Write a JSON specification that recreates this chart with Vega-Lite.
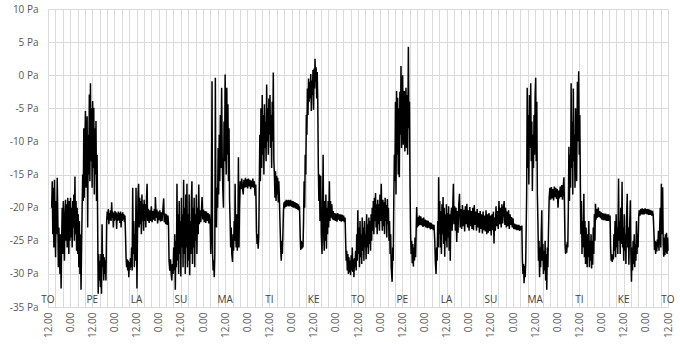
{
"$schema":"https://vega.github.io/schema/vega-lite/v6.json",
"width":620,"height":298,
"autosize":{"type":"none"},
"padding":{"left":48,"top":9,"right":12,"bottom":41},
"background":"white",
"config":{"view":{"stroke":null},"font":"Open Sans"},
"datasets":{
"days":[{"t":0,"d":"TO"},{"t":24,"d":"PE"},{"t":48,"d":"LA"},{"t":72,"d":"SU"},{"t":96,"d":"MA"},{"t":120,"d":"TI"},{"t":144,"d":"KE"},{"t":168,"d":"TO"},{"t":192,"d":"PE"},{"t":216,"d":"LA"},{"t":240,"d":"SU"},{"t":264,"d":"MA"},{"t":288,"d":"TI"},{"t":312,"d":"KE"},{"t":336,"d":"TO"}],
"series":[
{"t":2.0,"p":-20},{"t":2.3,"p":-16},{"t":2.6,"p":-24},{"t":2.9,"p":-17},{"t":3.2,"p":-26},{"t":3.5,"p":-15.8},{"t":3.8,"p":-22},{"t":4.1,"p":-27.5},{"t":4.4,"p":-19},{"t":4.7,"p":-24},{"t":5.0,"p":-15.5},{"t":5.3,"p":-21},{"t":5.6,"p":-29},{"t":5.9,"p":-23},{"t":6.2,"p":-27},{"t":6.5,"p":-30},{"t":6.8,"p":-24},{"t":7.1,"p":-32.2},{"t":7.4,"p":-25},{"t":7.7,"p":-20},{"t":8.0,"p":-27},{"t":8.3,"p":-19},{"t":8.6,"p":-24},{"t":8.9,"p":-28},{"t":9.2,"p":-21},{"t":9.5,"p":-18.8},{"t":9.8,"p":-25},{"t":10.1,"p":-19.5},{"t":10.4,"p":-26},{"t":10.7,"p":-18.5},{"t":11.0,"p":-23},{"t":11.3,"p":-27},{"t":11.6,"p":-19},{"t":11.9,"p":-25},{"t":12.2,"p":-18.5},{"t":12.5,"p":-24.5},{"t":12.8,"p":-20},{"t":13.1,"p":-26},{"t":13.4,"p":-19},{"t":13.7,"p":-23},{"t":14.0,"p":-18},{"t":14.3,"p":-25},{"t":14.6,"p":-15.3},{"t":14.9,"p":-24},{"t":15.2,"p":-19},{"t":15.5,"p":-26.5},{"t":15.8,"p":-20},{"t":16.1,"p":-27},{"t":16.4,"p":-21},{"t":16.7,"p":-29},{"t":17.0,"p":-22},{"t":17.3,"p":-30},{"t":17.6,"p":-24},{"t":17.9,"p":-32.4},{"t":18.2,"p":-26},
{"t":18.5,"p":-20},{"t":18.8,"p":-15},{"t":19.1,"p":-19},{"t":19.4,"p":-8},{"t":19.7,"p":-18.5},{"t":20.0,"p":-10},{"t":20.3,"p":-5.4},{"t":20.6,"p":-17},{"t":20.9,"p":-12},{"t":21.2,"p":-6.2},{"t":21.5,"p":-23},{"t":21.8,"p":-9},{"t":22.1,"p":-15},{"t":22.4,"p":-2.9},{"t":22.7,"p":-16},{"t":23.0,"p":-1.2},{"t":23.3,"p":-13},{"t":23.6,"p":-5},{"t":23.9,"p":-17},{"t":24.2,"p":-3.9},{"t":24.5,"p":-14},{"t":24.8,"p":-4.9},{"t":25.1,"p":-18},{"t":25.4,"p":-8},{"t":25.7,"p":-15},{"t":26.0,"p":-6.9},{"t":26.3,"p":-19},{"t":26.6,"p":-12},
{"t":26.9,"p":-22},{"t":27.2,"p":-33},{"t":27.5,"p":-27},{"t":27.8,"p":-31},{"t":28.1,"p":-28},{"t":28.4,"p":-32},{"t":28.7,"p":-27},{"t":29.0,"p":-33},{"t":29.3,"p":-22.5},{"t":29.6,"p":-29},{"t":29.9,"p":-27},{"t":30.2,"p":-31},{"t":30.5,"p":-27.5},{"t":30.8,"p":-30},{"t":31.1,"p":-28},{"t":31.4,"p":-31},
{"t":31.8,"p":-22},{"t":32.1,"p":-20.6},{"t":32.4,"p":-21.8},{"t":32.7,"p":-20.2},{"t":33.0,"p":-22.5},{"t":33.3,"p":-20.8},{"t":33.6,"p":-21.9},{"t":33.9,"p":-20.4},{"t":34.2,"p":-22},{"t":34.5,"p":-19.2},{"t":34.8,"p":-21.5},{"t":35.1,"p":-20.6},{"t":35.4,"p":-23},{"t":35.7,"p":-20.8},{"t":36.0,"p":-22},{"t":36.3,"p":-20.5},{"t":36.6,"p":-21.8},{"t":36.9,"p":-20.7},{"t":37.2,"p":-23.2},{"t":37.5,"p":-20.9},{"t":37.8,"p":-22},{"t":38.1,"p":-20.6},{"t":38.4,"p":-21.9},{"t":38.7,"p":-20.8},{"t":39.0,"p":-22.3},{"t":39.3,"p":-20.6},{"t":39.6,"p":-23},{"t":39.9,"p":-20.9},{"t":40.2,"p":-22},{"t":40.5,"p":-20.7},{"t":40.8,"p":-21.8},{"t":41.1,"p":-21},{"t":41.4,"p":-22.2},{"t":41.7,"p":-21.2},{"t":42.0,"p":-24},
{"t":42.3,"p":-27.5},{"t":42.6,"p":-29},{"t":42.9,"p":-27.8},{"t":43.2,"p":-29.5},{"t":43.5,"p":-28},{"t":43.8,"p":-30.5},{"t":44.1,"p":-28.2},{"t":44.4,"p":-29.4},{"t":44.7,"p":-27.6},{"t":45.0,"p":-29},{"t":45.3,"p":-26},{"t":45.6,"p":-29.5},
{"t":45.9,"p":-17},{"t":46.2,"p":-27},{"t":46.5,"p":-22},{"t":46.8,"p":-29},{"t":47.1,"p":-24},{"t":47.4,"p":-28},{"t":47.7,"p":-17},{"t":48.0,"p":-25},{"t":48.2,"p":-32.2},{"t":48.5,"p":-24},
{"t":48.8,"p":-18},{"t":49.1,"p":-16.4},{"t":49.4,"p":-23},{"t":49.7,"p":-18.5},{"t":50.0,"p":-22.5},{"t":50.3,"p":-19},{"t":50.6,"p":-24},{"t":50.9,"p":-18},{"t":51.2,"p":-22},{"t":51.5,"p":-19.5},{"t":51.8,"p":-23.5},{"t":52.1,"p":-18.8},{"t":52.4,"p":-22},{"t":52.7,"p":-19.5},{"t":53.0,"p":-23},{"t":53.4,"p":-18.5},{"t":53.7,"p":-16.4},{"t":54.0,"p":-22},
{"t":54.4,"p":-20.2},{"t":54.8,"p":-22.3},{"t":55.2,"p":-20.4},{"t":55.6,"p":-22},{"t":56.0,"p":-19.8},{"t":56.4,"p":-22.2},{"t":56.8,"p":-20.5},{"t":57.2,"p":-21.8},{"t":57.6,"p":-20.2},{"t":58.0,"p":-22},{"t":58.2,"p":-18.4},{"t":58.6,"p":-21.5},{"t":59.0,"p":-20.3},{"t":59.4,"p":-22.4},{"t":59.8,"p":-20.6},{"t":60.2,"p":-21.9},{"t":60.6,"p":-20.4},{"t":61.0,"p":-22.1},{"t":61.4,"p":-20.7},{"t":61.8,"p":-22},{"t":62.2,"p":-20.5},{"t":62.7,"p":-18.6},{"t":63.0,"p":-22.2},{"t":63.4,"p":-20.9},{"t":63.8,"p":-22.5},{"t":64.2,"p":-21},{"t":64.6,"p":-22.6},{"t":65.0,"p":-21.2},{"t":65.3,"p":-22.4},
{"t":65.6,"p":-28},{"t":66.0,"p":-29.5},{"t":66.4,"p":-27.8},{"t":66.8,"p":-30.2},{"t":67.1,"p":-31},{"t":67.4,"p":-28.5},{"t":67.8,"p":-30},{"t":68.1,"p":-26},{"t":68.4,"p":-29.5},{"t":68.7,"p":-24},{"t":69.0,"p":-32.4},{"t":69.3,"p":-25},{"t":69.6,"p":-29},{"t":69.9,"p":-16.4},{"t":70.2,"p":-28},{"t":70.5,"p":-21},{"t":70.8,"p":-30},{"t":71.1,"p":-19},{"t":71.4,"p":-27},{"t":71.7,"p":-22},{"t":72.0,"p":-30.4},{"t":72.3,"p":-18.5},{"t":72.6,"p":-26},{"t":72.9,"p":-21},{"t":73.2,"p":-29},{"t":73.5,"p":-15.8},{"t":73.8,"p":-27},{"t":74.1,"p":-20},{"t":74.4,"p":-30},{"t":74.7,"p":-18},{"t":75.0,"p":-26},{"t":75.3,"p":-16.4},{"t":75.6,"p":-29},{"t":75.9,"p":-21},{"t":76.2,"p":-28},{"t":76.5,"p":-18},{"t":76.8,"p":-30.2},{"t":77.1,"p":-22},{"t":77.4,"p":-27},{"t":77.7,"p":-19},{"t":78.0,"p":-16},{"t":78.3,"p":-28.5},{"t":78.6,"p":-20},{"t":78.9,"p":-26},{"t":79.2,"p":-18.5},{"t":79.5,"p":-29},{"t":79.8,"p":-21},{"t":80.1,"p":-25},{"t":80.4,"p":-18},{"t":80.7,"p":-27},{"t":81.0,"p":-20},{"t":81.4,"p":-24},{"t":81.7,"p":-16.5},
{"t":82.0,"p":-22.5},{"t":82.4,"p":-20.4},{"t":82.8,"p":-22.2},{"t":83.2,"p":-20.2},{"t":83.5,"p":-18.4},{"t":83.9,"p":-21.8},{"t":84.3,"p":-20.3},{"t":84.7,"p":-22.2},{"t":85.1,"p":-20.5},{"t":85.5,"p":-22.3},{"t":85.9,"p":-20.6},{"t":86.3,"p":-22},{"t":86.7,"p":-20.8},{"t":87.1,"p":-22.4},{"t":87.5,"p":-21},{"t":87.9,"p":-22.5},
{"t":88.2,"p":-27},{"t":88.5,"p":-24},{"t":88.9,"p":-0.9},{"t":89.2,"p":-27},{"t":89.5,"p":-29.5},{"t":89.8,"p":-28},{"t":90.1,"p":-30.5},{"t":90.4,"p":-27},{"t":90.7,"p":-0.4},{"t":91.0,"p":-20},{"t":91.3,"p":-23},{"t":91.6,"p":-17},{"t":91.9,"p":-20},{"t":92.2,"p":-11},{"t":92.5,"p":-18},{"t":92.8,"p":-9},{"t":93.1,"p":-16},
{"t":93.4,"p":-6},{"t":93.7,"p":-14},{"t":94.1,"p":-1.9},{"t":94.4,"p":-12},{"t":94.7,"p":-17},{"t":95.1,"p":-20},{"t":95.4,"p":-7},{"t":95.7,"p":-13},{"t":96.0,"p":0.1},{"t":96.3,"p":-10},{"t":96.6,"p":-15},{"t":96.9,"p":-1.9},{"t":97.2,"p":-12},{"t":97.5,"p":-4.4},{"t":97.8,"p":-16},{"t":98.1,"p":-8},{"t":98.4,"p":-19},
{"t":98.7,"p":-22},{"t":99.0,"p":-26},{"t":99.3,"p":-23},{"t":99.6,"p":-27},{"t":100.0,"p":-28.2},{"t":100.3,"p":-24},{"t":100.6,"p":-26.5},{"t":100.9,"p":-22},{"t":101.2,"p":-25},{"t":101.4,"p":-16.4},{"t":101.7,"p":-24},{"t":102.0,"p":-26},{"t":102.3,"p":-21},{"t":102.6,"p":-26.5},{"t":102.9,"p":-24},{"t":103.2,"p":-12.4},{"t":103.5,"p":-26},{"t":103.8,"p":-20},
{"t":104.2,"p":-16},{"t":104.6,"p":-17.2},{"t":105.0,"p":-15.6},{"t":105.4,"p":-17},{"t":105.8,"p":-18},{"t":106.2,"p":-15.8},{"t":106.6,"p":-17},{"t":107.0,"p":-15.5},{"t":107.4,"p":-16.9},{"t":107.8,"p":-15.7},{"t":108.2,"p":-17.1},{"t":108.6,"p":-15.6},{"t":109.0,"p":-16.8},{"t":109.4,"p":-15.8},{"t":109.8,"p":-17.2},{"t":110.2,"p":-15.9},{"t":110.6,"p":-16.9},{"t":111.0,"p":-15.6},{"t":111.4,"p":-17},{"t":111.8,"p":-16},{"t":112.2,"p":-18.2},{"t":112.6,"p":-16.5},
{"t":113.0,"p":-23.5},{"t":113.3,"p":-25.5},{"t":113.6,"p":-24},{"t":113.9,"p":-26.2},{"t":114.2,"p":-24.5},
{"t":114.5,"p":-17},{"t":114.8,"p":-9},{"t":115.1,"p":-16},{"t":115.4,"p":-5},{"t":115.8,"p":-14},{"t":116.1,"p":-3},{"t":116.4,"p":-12},{"t":116.7,"p":-6},{"t":117.0,"p":-15},{"t":117.3,"p":-4.4},{"t":117.6,"p":-11},{"t":117.9,"p":-7},{"t":118.2,"p":-13},{"t":118.5,"p":-1.4},{"t":118.8,"p":-10},{"t":119.1,"p":-5},{"t":119.4,"p":-12},{"t":119.7,"p":-3.5},{"t":120.0,"p":-9},{"t":120.3,"p":-3},{"t":120.6,"p":-11},{"t":120.9,"p":-6},{"t":121.2,"p":-14},{"t":121.5,"p":-4},{"t":121.8,"p":-10},{"t":122.1,"p":0.4},{"t":122.4,"p":-13},
{"t":122.7,"p":-15},{"t":123.0,"p":-18.5},{"t":123.3,"p":-14.5},{"t":123.6,"p":-19},{"t":123.9,"p":-15.2},{"t":124.2,"p":-18},{"t":124.5,"p":-15.5},{"t":124.8,"p":-19.2},{"t":125.1,"p":-16},{"t":125.4,"p":-18.8},
{"t":125.8,"p":-23},{"t":126.1,"p":-26},{"t":126.4,"p":-28},{"t":126.7,"p":-25},{"t":127.0,"p":-27},{"t":127.3,"p":-24},
{"t":127.6,"p":-20.5},{"t":127.9,"p":-19.2},{"t":128.2,"p":-20.1},{"t":128.5,"p":-19},{"t":128.8,"p":-19.9},{"t":129.1,"p":-18.8},{"t":129.4,"p":-19.8},{"t":129.7,"p":-18.9},{"t":130.0,"p":-19.7},{"t":130.3,"p":-18.8},{"t":130.6,"p":-19.8},{"t":130.9,"p":-18.9},{"t":131.2,"p":-19.7},{"t":131.5,"p":-18.8},{"t":131.8,"p":-19.8},{"t":132.1,"p":-19},{"t":132.4,"p":-19.9},{"t":132.7,"p":-19},{"t":133.0,"p":-20},{"t":133.3,"p":-19.1},{"t":133.6,"p":-20},{"t":133.9,"p":-19.2},{"t":134.2,"p":-20.1},{"t":134.5,"p":-19.3},{"t":134.8,"p":-20.2},{"t":135.1,"p":-19.4},{"t":135.4,"p":-20.3},{"t":135.7,"p":-19.5},{"t":136.0,"p":-20.4},{"t":136.3,"p":-19.8},
{"t":136.7,"p":-24.5},{"t":137.0,"p":-26.4},{"t":137.3,"p":-25},{"t":137.6,"p":-26.2},{"t":137.9,"p":-25.2},{"t":138.2,"p":-26},
{"t":138.5,"p":-22},{"t":138.8,"p":-16},{"t":139.1,"p":-20},{"t":139.4,"p":-12},{"t":139.7,"p":-15},{"t":140.0,"p":-6},{"t":140.3,"p":-9},{"t":140.6,"p":-2},{"t":140.9,"p":-6},{"t":141.2,"p":-0.5},{"t":141.5,"p":-4},{"t":141.8,"p":-1},{"t":142.1,"p":-3.5},{"t":142.4,"p":0.2},{"t":142.7,"p":-5.4},{"t":143.0,"p":-0.8},{"t":143.3,"p":-3},{"t":143.6,"p":0.8},{"t":143.9,"p":-5.2},{"t":144.2,"p":1},{"t":144.5,"p":-2},{"t":144.7,"p":2.5},{"t":145.0,"p":-1},{"t":145.3,"p":1.2},{"t":145.6,"p":-3.5},{"t":145.9,"p":0.5},{"t":146.2,"p":-4},
{"t":146.5,"p":-14},{"t":146.8,"p":-19},{"t":147.1,"p":-15},{"t":147.4,"p":-22},{"t":147.8,"p":-15.2},{"t":148.1,"p":-24},{"t":148.5,"p":-27},{"t":148.8,"p":-20},{"t":149.1,"p":-12},{"t":149.4,"p":-24},{"t":149.7,"p":-26.5},{"t":150.0,"p":-19},{"t":150.3,"p":-25},{"t":150.6,"p":-18},{"t":150.9,"p":-26.2},{"t":151.2,"p":-20},{"t":151.5,"p":-24},{"t":151.8,"p":-19},{"t":152.1,"p":-23},{"t":152.5,"p":-16},{"t":152.8,"p":-22},{"t":153.1,"p":-19},{"t":153.4,"p":-21.5},{"t":153.8,"p":-19.5},
{"t":154.2,"p":-21.8},{"t":154.6,"p":-20.5},{"t":155.0,"p":-21.9},{"t":155.4,"p":-20.8},{"t":155.8,"p":-22},{"t":156.2,"p":-20.9},{"t":156.6,"p":-22.1},{"t":157.0,"p":-20.8},{"t":157.4,"p":-21.8},{"t":157.8,"p":-21},{"t":158.2,"p":-22},{"t":158.6,"p":-21},{"t":159.0,"p":-22.1},{"t":159.4,"p":-21.1},{"t":159.8,"p":-22},{"t":160.2,"p":-21.2},{"t":160.6,"p":-22.2},{"t":161.0,"p":-21.5},
{"t":161.3,"p":-25},{"t":161.6,"p":-28},{"t":161.9,"p":-26.5},{"t":162.2,"p":-29.5},{"t":162.5,"p":-27},{"t":162.8,"p":-30},{"t":163.1,"p":-27.5},{"t":163.4,"p":-29.8},{"t":163.7,"p":-28},{"t":164.0,"p":-30.2},{"t":164.3,"p":-27.2},{"t":164.6,"p":-29.5},{"t":164.9,"p":-26},{"t":165.2,"p":-29.7},{"t":165.5,"p":-27.8},{"t":165.8,"p":-30.5},{"t":166.1,"p":-27.6},{"t":166.4,"p":-29},{"t":166.7,"p":-26.5},{"t":167.0,"p":-29.5},
{"t":167.3,"p":-24},{"t":167.6,"p":-28},{"t":167.9,"p":-20.4},{"t":168.2,"p":-27},{"t":168.5,"p":-23},{"t":168.8,"p":-29},{"t":169.1,"p":-22},{"t":169.4,"p":-27.5},{"t":169.7,"p":-24},{"t":170.0,"p":-28.5},{"t":170.3,"p":-21.5},{"t":170.6,"p":-26.5},{"t":170.9,"p":-23},{"t":171.2,"p":-28},{"t":171.5,"p":-22},{"t":171.8,"p":-26},{"t":172.1,"p":-24},{"t":172.4,"p":-27.8},{"t":172.7,"p":-21},{"t":173.0,"p":-26},{"t":173.3,"p":-22.5},{"t":173.6,"p":-27},{"t":173.9,"p":-21.5},{"t":174.2,"p":-25.5},{"t":174.5,"p":-22},{"t":174.8,"p":-26.5},{"t":175.1,"p":-21},{"t":175.4,"p":-25},{"t":175.7,"p":-20},
{"t":176.0,"p":-23.5},{"t":176.3,"p":-19},{"t":176.6,"p":-24},{"t":176.9,"p":-18.5},{"t":177.2,"p":-22},{"t":177.5,"p":-17.8},{"t":177.8,"p":-23},{"t":178.1,"p":-19.5},{"t":178.4,"p":-24},{"t":178.7,"p":-18.8},{"t":179.0,"p":-22.5},{"t":179.3,"p":-19.5},{"t":179.6,"p":-23.5},{"t":179.9,"p":-18},{"t":180.2,"p":-22},{"t":180.6,"p":-16.4},{"t":180.9,"p":-21},{"t":181.2,"p":-23.5},{"t":181.5,"p":-18.8},{"t":181.8,"p":-22.8},{"t":182.1,"p":-19.2},{"t":182.4,"p":-24},{"t":182.7,"p":-18.5},{"t":183.0,"p":-22},{"t":183.3,"p":-19.6},{"t":183.6,"p":-24.5},{"t":183.9,"p":-18.7},{"t":184.2,"p":-22.5},{"t":184.5,"p":-20},{"t":184.8,"p":-25},
{"t":185.1,"p":-22},{"t":185.4,"p":-27},{"t":185.7,"p":-24},{"t":186.0,"p":-29},{"t":186.5,"p":-31.2},{"t":186.8,"p":-26},{"t":187.1,"p":-28},
{"t":187.4,"p":-19},{"t":187.7,"p":-12},{"t":188.0,"p":-16},{"t":188.3,"p":-4},{"t":188.6,"p":-18},{"t":188.9,"p":-2.4},{"t":189.2,"p":-12},{"t":189.5,"p":-3.4},{"t":189.8,"p":-15},{"t":190.1,"p":-5},{"t":190.4,"p":-15.4},{"t":190.7,"p":-2.5},{"t":191.0,"p":-9},{"t":191.3,"p":1.4},{"t":191.6,"p":-11},{"t":191.9,"p":-4},{"t":192.2,"p":0},{"t":192.5,"p":-10.5},{"t":192.8,"p":-5},{"t":193.1,"p":-2.4},{"t":193.4,"p":-11.5},{"t":193.7,"p":-6},{"t":194.0,"p":-1.9},{"t":194.3,"p":-11},{"t":194.6,"p":-3},{"t":194.9,"p":-12},{"t":195.3,"p":4.3},{"t":195.6,"p":-8},{"t":195.9,"p":-4},
{"t":196.2,"p":-17},{"t":196.5,"p":-24},{"t":196.8,"p":-27},{"t":197.1,"p":-25},{"t":197.4,"p":-28.4},{"t":197.7,"p":-25.5},{"t":198.0,"p":-28.9},{"t":198.3,"p":-26},{"t":198.6,"p":-28},{"t":198.9,"p":-24.5},{"t":199.2,"p":-27.5},
{"t":199.8,"p":-19.9},{"t":200.1,"p":-23},{"t":200.4,"p":-21.4},{"t":200.8,"p":-22.8},{"t":201.2,"p":-21.2},{"t":201.6,"p":-22.6},{"t":202.0,"p":-21.3},{"t":202.4,"p":-22.7},{"t":202.8,"p":-21.6},{"t":203.2,"p":-22.9},{"t":203.6,"p":-21.5},{"t":204.0,"p":-22.8},{"t":204.4,"p":-21.8},{"t":204.8,"p":-23},{"t":205.2,"p":-21.9},{"t":205.6,"p":-23.1},{"t":206.0,"p":-22},{"t":206.4,"p":-23},{"t":206.8,"p":-22.2},{"t":207.2,"p":-23.3},{"t":207.6,"p":-22.3},{"t":208.0,"p":-23.2},{"t":208.4,"p":-22.5},{"t":208.8,"p":-23.4},{"t":209.2,"p":-22.6},
{"t":209.6,"p":-25},{"t":209.9,"p":-28},{"t":210.3,"p":-30},{"t":210.6,"p":-26},{"t":210.9,"p":-28},{"t":211.2,"p":-22},{"t":211.5,"p":-26},{"t":211.7,"p":-15.4},{"t":212.0,"p":-24},
{"t":212.3,"p":-19},{"t":212.6,"p":-26},{"t":212.9,"p":-20.5},{"t":213.2,"p":-27},{"t":213.5,"p":-19.5},{"t":213.8,"p":-24},{"t":214.1,"p":-18.4},{"t":214.4,"p":-25.5},{"t":214.7,"p":-20},{"t":215.0,"p":-27.4},{"t":215.3,"p":-21},{"t":215.6,"p":-25},{"t":215.9,"p":-19.5},{"t":216.2,"p":-26},{"t":216.5,"p":-20.8},{"t":216.8,"p":-24.5},{"t":217.1,"p":-19.8},{"t":217.4,"p":-26.5},{"t":217.7,"p":-21},{"t":218.0,"p":-28},{"t":218.3,"p":-21.5},
{"t":218.7,"p":-20},{"t":219.0,"p":-23.5},{"t":219.4,"p":-19.5},{"t":219.7,"p":-16.4},{"t":220.0,"p":-22.5},{"t":220.4,"p":-19.8},{"t":220.8,"p":-23.5},{"t":221.1,"p":-20},{"t":221.5,"p":-25.2},{"t":221.9,"p":-20.5},{"t":222.2,"p":-23.8},{"t":222.6,"p":-19.6},{"t":223.0,"p":-17.9},{"t":223.4,"p":-23},{"t":223.8,"p":-20.2},{"t":224.2,"p":-23.2},{"t":224.6,"p":-19.6},{"t":225.0,"p":-22.8},{"t":225.4,"p":-20.3},{"t":225.8,"p":-23.6},{"t":226.2,"p":-19.8},{"t":226.6,"p":-22.5},{"t":227.0,"p":-19.4},{"t":227.4,"p":-23},{"t":227.8,"p":-20.4},{"t":228.2,"p":-23.5},{"t":228.6,"p":-19.9},{"t":229.0,"p":-22.8},{"t":229.4,"p":-20.5},{"t":229.8,"p":-23.2},{"t":230.2,"p":-20},{"t":230.6,"p":-23.4},{"t":231.0,"p":-19.6},{"t":231.4,"p":-22.6},{"t":231.8,"p":-20.6},{"t":232.2,"p":-23.5},{"t":232.6,"p":-20.2},{"t":233.0,"p":-23},{"t":233.4,"p":-20.8},{"t":233.8,"p":-23.8},{"t":234.2,"p":-20.5},{"t":234.6,"p":-23.2},{"t":235.0,"p":-21},{"t":235.4,"p":-23.9},{"t":235.8,"p":-20.6},{"t":236.2,"p":-23.4},{"t":236.6,"p":-21.2},{"t":237.0,"p":-23.6},{"t":237.4,"p":-20.4},{"t":237.8,"p":-24},{"t":238.2,"p":-21},
{"t":238.6,"p":-23.8},{"t":239.0,"p":-20.8},{"t":239.4,"p":-23.5},{"t":239.8,"p":-21.2},{"t":240.2,"p":-24.2},{"t":240.6,"p":-21},{"t":241.0,"p":-23.4},{"t":241.4,"p":-20.6},{"t":241.7,"p":-25.4},{"t":242.0,"p":-21.5},{"t":242.4,"p":-23.5},{"t":242.8,"p":-19.8},{"t":243.2,"p":-22.8},{"t":243.6,"p":-20.5},{"t":244.0,"p":-23.2},{"t":244.4,"p":-19},{"t":244.8,"p":-22.5},{"t":245.2,"p":-20},{"t":245.6,"p":-23},{"t":246.0,"p":-19.5},{"t":246.4,"p":-22.4},{"t":246.8,"p":-20.2},{"t":247.2,"p":-19},{"t":247.6,"p":-22.6},{"t":248.0,"p":-20},{"t":248.4,"p":-23},{"t":248.8,"p":-20.6},{"t":249.2,"p":-22.8},{"t":249.6,"p":-20.4},{"t":250.0,"p":-23.2},{"t":250.4,"p":-21},{"t":250.8,"p":-22.6},{"t":251.2,"p":-21.4},{"t":251.6,"p":-23},{"t":252.0,"p":-21.6},{"t":252.4,"p":-23.2},
{"t":252.8,"p":-22.4},{"t":253.2,"p":-23.3},{"t":253.6,"p":-22.5},{"t":254.0,"p":-23.4},{"t":254.4,"p":-22.6},{"t":254.8,"p":-23.4},{"t":255.2,"p":-22.6},{"t":255.6,"p":-23.5},{"t":256.0,"p":-22.8},{"t":256.4,"p":-23.4},{"t":256.8,"p":-22.7},
{"t":257.1,"p":-28},{"t":257.4,"p":-30},{"t":257.7,"p":-28.5},{"t":258.0,"p":-31.4},{"t":258.3,"p":-28.8},{"t":258.6,"p":-30.5},{"t":258.9,"p":-28},
{"t":259.4,"p":-18},{"t":259.7,"p":-1.9},{"t":260.0,"p":-14},{"t":260.3,"p":-6},{"t":260.6,"p":-16.5},{"t":260.9,"p":-3},{"t":261.2,"p":-11},{"t":261.6,"p":-1.2},{"t":261.9,"p":-13},{"t":262.2,"p":-7},{"t":262.5,"p":-17.5},{"t":262.8,"p":-9},{"t":263.1,"p":-14},{"t":263.4,"p":-6},{"t":263.7,"p":-12},{"t":264.0,"p":-3},{"t":264.3,"p":-0.4},{"t":264.6,"p":-13},{"t":264.9,"p":-4},{"t":265.2,"p":-18},
{"t":265.5,"p":-22},{"t":265.8,"p":-28},{"t":266.1,"p":-25},{"t":266.4,"p":-30.5},{"t":266.7,"p":-26},{"t":267.0,"p":-29},{"t":267.3,"p":-24},{"t":267.6,"p":-20.4},{"t":267.9,"p":-28},{"t":268.2,"p":-25.5},{"t":268.5,"p":-30},{"t":268.8,"p":-26.5},{"t":269.1,"p":-29.5},{"t":269.4,"p":-25},{"t":269.7,"p":-31},{"t":270.0,"p":-27},{"t":270.3,"p":-32.4},{"t":270.6,"p":-26},{"t":270.9,"p":-29},{"t":271.2,"p":-24},
{"t":271.6,"p":-18.5},{"t":272.0,"p":-17},{"t":272.4,"p":-18.8},{"t":272.8,"p":-16.9},{"t":273.2,"p":-18.6},{"t":273.6,"p":-17.2},{"t":274.0,"p":-18.9},{"t":274.4,"p":-16.8},{"t":274.8,"p":-18.4},{"t":275.2,"p":-17},{"t":275.6,"p":-18.7},{"t":276.0,"p":-17.2},{"t":276.4,"p":-20},{"t":276.8,"p":-17.4},{"t":277.2,"p":-18.6},{"t":277.6,"p":-16.8},{"t":278.0,"p":-18.4},{"t":278.4,"p":-16.6},{"t":278.8,"p":-18.8},{"t":279.2,"p":-17},{"t":279.6,"p":-15.4},
{"t":279.9,"p":-20},{"t":280.2,"p":-25.5},{"t":280.5,"p":-27},{"t":280.8,"p":-25.6},{"t":281.1,"p":-26.8},{"t":281.4,"p":-25.2},{"t":281.7,"p":-26},
{"t":282.0,"p":-20},{"t":282.3,"p":-10.8},{"t":282.6,"p":-19},{"t":282.9,"p":-12},{"t":283.2,"p":-17},{"t":283.5,"p":-1.2},{"t":283.8,"p":-14},{"t":284.1,"p":-7},{"t":284.4,"p":-18},{"t":284.7,"p":-2},{"t":285.0,"p":-13},{"t":285.3,"p":-9},{"t":285.6,"p":-17},{"t":285.9,"p":-5},{"t":286.2,"p":-12},{"t":286.5,"p":-16},{"t":286.9,"p":-1},{"t":287.2,"p":-10},{"t":287.6,"p":0.6},{"t":287.9,"p":-12},{"t":288.2,"p":-6},
{"t":288.5,"p":-16},{"t":288.8,"p":-24},{"t":289.1,"p":-19},{"t":289.4,"p":-27},{"t":289.7,"p":-22},{"t":290.0,"p":-26},{"t":290.4,"p":-17.9},{"t":290.7,"p":-27.5},{"t":291.0,"p":-22},{"t":291.3,"p":-28.5},{"t":291.6,"p":-23},{"t":291.9,"p":-26},{"t":292.2,"p":-29},{"t":292.5,"p":-24},{"t":292.8,"p":-27.5},{"t":293.1,"p":-22},{"t":293.4,"p":-29},{"t":293.7,"p":-25},{"t":294.0,"p":-28},{"t":294.3,"p":-24},{"t":294.6,"p":-29.2},{"t":294.9,"p":-25},{"t":295.2,"p":-28.6},{"t":295.5,"p":-23},{"t":295.8,"p":-27},{"t":296.1,"p":-21},{"t":296.4,"p":-25},{"t":296.7,"p":-19.4},
{"t":297.0,"p":-21.8},{"t":297.4,"p":-20.2},{"t":297.8,"p":-21.5},{"t":298.2,"p":-20},{"t":298.6,"p":-21.4},{"t":299.0,"p":-20.5},{"t":299.4,"p":-21.6},{"t":299.8,"p":-20.7},{"t":300.2,"p":-21.8},{"t":300.6,"p":-20.8},{"t":301.0,"p":-21.9},{"t":301.4,"p":-20.9},{"t":301.8,"p":-21.9},{"t":302.2,"p":-20.9},{"t":302.6,"p":-22},{"t":303.0,"p":-21},{"t":303.4,"p":-22},{"t":303.8,"p":-21},{"t":304.2,"p":-22},{"t":304.6,"p":-21.2},
{"t":304.9,"p":-26},{"t":305.2,"p":-28},{"t":305.5,"p":-27},{"t":305.8,"p":-28.2},{"t":306.1,"p":-27.2},{"t":306.4,"p":-27.8},
{"t":306.7,"p":-24},{"t":307.0,"p":-26.5},{"t":307.3,"p":-22},{"t":307.6,"p":-27.5},{"t":307.9,"p":-21},{"t":308.2,"p":-26},{"t":308.5,"p":-23},{"t":308.8,"p":-27},{"t":309.2,"p":-15.6},{"t":309.5,"p":-25},{"t":309.8,"p":-22},{"t":310.1,"p":-27},{"t":310.4,"p":-20},{"t":310.8,"p":-25.5},{"t":311.1,"p":-16.1},{"t":311.4,"p":-26},{"t":311.7,"p":-23},{"t":312.0,"p":-28},{"t":312.3,"p":-21},{"t":312.6,"p":-26.5},{"t":312.9,"p":-24},{"t":313.2,"p":-28.5},{"t":313.5,"p":-22},{"t":313.9,"p":-17.9},{"t":314.2,"p":-26},{"t":314.5,"p":-23},{"t":314.8,"p":-28.6},{"t":315.1,"p":-24},{"t":315.6,"p":-18.9},{"t":315.9,"p":-27},{"t":316.2,"p":-31.2},{"t":316.5,"p":-26},{"t":316.8,"p":-29.5},{"t":317.1,"p":-25},{"t":317.4,"p":-28.5},{"t":317.7,"p":-24},{"t":318.0,"p":-29},{"t":318.3,"p":-25.5},{"t":318.6,"p":-28},{"t":318.9,"p":-22},{"t":319.2,"p":-27},{"t":319.5,"p":-24},{"t":319.8,"p":-26},
{"t":320.1,"p":-21.5},{"t":320.4,"p":-20.4},{"t":320.8,"p":-21.2},{"t":321.2,"p":-20.2},{"t":321.6,"p":-21},{"t":322.0,"p":-20.1},{"t":322.4,"p":-21},{"t":322.8,"p":-20.2},{"t":323.2,"p":-21},{"t":323.6,"p":-20.1},{"t":324.0,"p":-20.9},{"t":324.4,"p":-20.2},{"t":324.8,"p":-21},{"t":325.2,"p":-20.2},{"t":325.6,"p":-21.1},{"t":326.0,"p":-20.3},{"t":326.4,"p":-21.1},{"t":326.8,"p":-20.4},{"t":327.2,"p":-21.2},{"t":327.6,"p":-20.5},{"t":328.0,"p":-21.2},
{"t":328.4,"p":-24},{"t":328.7,"p":-26.4},{"t":329.0,"p":-25},{"t":329.3,"p":-27},{"t":329.6,"p":-25.2},{"t":329.9,"p":-26.6},{"t":330.2,"p":-24.8},{"t":330.5,"p":-26},{"t":330.8,"p":-23.5},{"t":331.1,"p":-26.5},{"t":331.4,"p":-24},{"t":331.8,"p":-20},{"t":332.1,"p":-26},{"t":332.4,"p":-16.4},{"t":332.7,"p":-24},{"t":333.1,"p":-16.9},{"t":333.4,"p":-25.5},{"t":333.7,"p":-27.4},{"t":334.0,"p":-24.5},{"t":334.3,"p":-27.2},{"t":334.6,"p":-24},{"t":334.9,"p":-26.8},{"t":335.2,"p":-23.8},{"t":335.5,"p":-27},{"t":335.8,"p":-24.5},{"t":336.0,"p":-26.5}
]},
"layer":[
{"data":{"name":"series"},
 "mark":{"type":"line","color":"#000000","strokeWidth":1.5,"interpolate":"linear"},
 "encoding":{
  "x":{"field":"t","type":"quantitative","scale":{"domain":[0,336],"nice":false,"zero":false},
   "axis":{"title":null,"values":[0,4,8,12,16,20,24,28,32,36,40,44,48,52,56,60,64,68,72,76,80,84,88,92,96,100,104,108,112,116,120,124,128,132,136,140,144,148,152,156,160,164,168,172,176,180,184,188,192,196,200,204,208,212,216,220,224,228,232,236,240,244,248,252,256,260,264,268,272,276,280,284,288,292,296,300,304,308,312,316,320,324,328,332,336],
    "labelExpr":"datum.value % 24 == 0 ? '12.00' : (datum.value % 12 == 0 ? '0.00' : '')",
    "labelAngle":-90,"labelPadding":5,"ticks":false,"domain":false,"grid":true,"gridColor":"#dadada","gridWidth":1,
    "labelColor":"#595959","labelFont":"Open Sans","labelFontSize":10,"labelOverlap":false,"labelBound":false,"labelFlush":false}},
  "y":{"field":"p","type":"quantitative","scale":{"domain":[-35,10],"nice":false,"zero":false},
   "axis":{"title":null,"values":[-35,-30,-25,-20,-15,-10,-5,0,5,10],"labelExpr":"datum.value + ' Pa'",
    "ticks":false,"domain":false,"grid":true,"gridColor":"#dadada","gridWidth":1,"labelPadding":10,
    "labelColor":"#595959","labelFont":"Open Sans","labelFontSize":10,"labelOverlap":false,"labelFlush":false}}
 }},
{"data":{"name":"days"},
 "mark":{"type":"text","color":"#404040","font":"Open Sans","fontSize":10,"baseline":"alphabetic","align":"center","dy":-4},
 "encoding":{
  "x":{"field":"t","type":"quantitative",
   "axis":{"title":null,"values":[0,4,8,12,16,20,24,28,32,36,40,44,48,52,56,60,64,68,72,76,80,84,88,92,96,100,104,108,112,116,120,124,128,132,136,140,144,148,152,156,160,164,168,172,176,180,184,188,192,196,200,204,208,212,216,220,224,228,232,236,240,244,248,252,256,260,264,268,272,276,280,284,288,292,296,300,304,308,312,316,320,324,328,332,336],
    "labelExpr":"datum.value % 24 == 0 ? '12.00' : (datum.value % 12 == 0 ? '0.00' : '')",
    "labelAngle":-90,"labelPadding":5,"ticks":false,"domain":false,"grid":true,"gridColor":"#dadada","gridWidth":1,
    "labelColor":"#595959","labelFont":"Open Sans","labelFontSize":10,"labelOverlap":false,"labelBound":false,"labelFlush":false}},
  "y":{"datum":-35,"type":"quantitative",
   "axis":{"title":null,"values":[-35,-30,-25,-20,-15,-10,-5,0,5,10],"labelExpr":"datum.value + ' Pa'",
    "ticks":false,"domain":false,"grid":true,"gridColor":"#dadada","gridWidth":1,"labelPadding":10,
    "labelColor":"#595959","labelFont":"Open Sans","labelFontSize":10,"labelOverlap":false,"labelFlush":false}},
  "text":{"field":"d"}}}
]
}
